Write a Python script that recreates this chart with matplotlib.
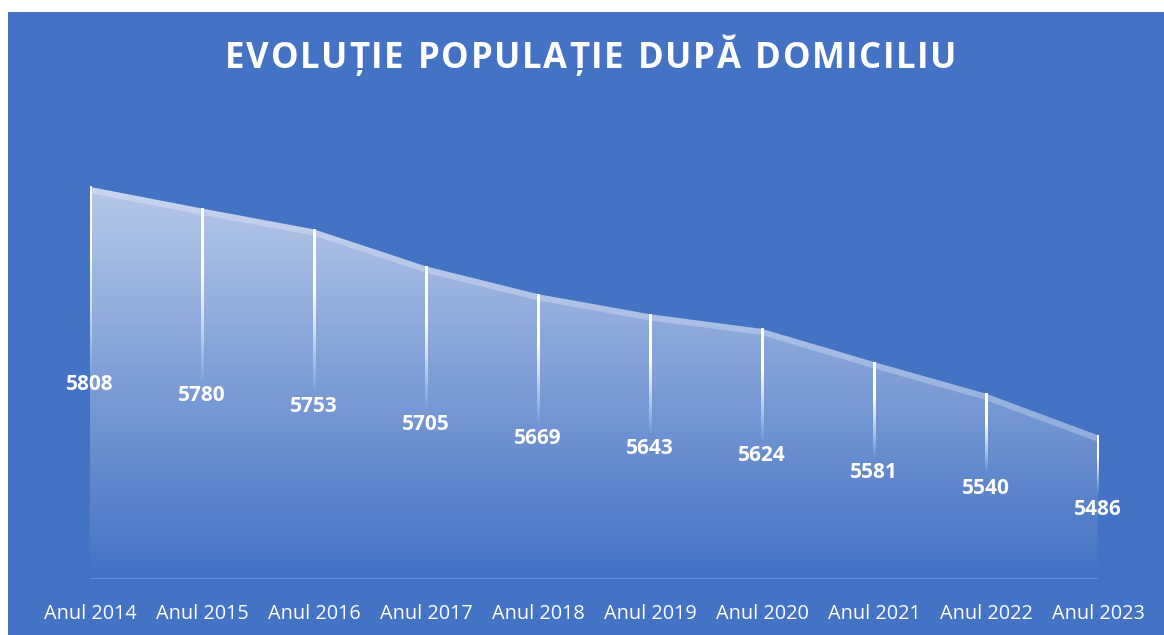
import numpy as np
import matplotlib
matplotlib.use("Agg")
import matplotlib.pyplot as plt
from matplotlib.patches import Rectangle
from matplotlib import transforms

# data
years = ["Anul 2014", "Anul 2015", "Anul 2016", "Anul 2017", "Anul 2018",
         "Anul 2019", "Anul 2020", "Anul 2021", "Anul 2022", "Anul 2023"]
population = [5808, 5780, 5753, 5705, 5669, 5643, 5624, 5581, 5540, 5486]
y_min, y_max = 5300, 5900
title = "EVOLUȚIE POPULAȚIE DUPĂ DOMICILIU"

BLUE = "#4472C4"
W, H = 1164, 635

fig = plt.figure(figsize=(W / 100, H / 100), dpi=100, facecolor="white")
fig.patches.append(Rectangle((8 / W, 0), 1 - 8 / W, 1 - 12 / H, transform=fig.transFigure,
                             facecolor=BLUE, edgecolor="none", zorder=-5))

ax = fig.add_axes([90 / W, (H - 579) / H, 1008 / W, (579 - 116) / H])
ax.set_zorder(2)
ax.set_facecolor("none")
x = np.arange(len(years))
n = len(years)
for s in ax.spines.values():
    s.set_visible(False)
ax.set_yticks([])

# gradient area fill
poly = ax.fill_between(x, population, y_min, facecolor="none", edgecolor="none")
top = max(population)
grad = np.zeros((256, 2, 4))
grad[..., :3] = 1.0
grad[..., 3] = np.linspace(0.62, 0.0, 256)[:, None]
im = ax.imshow(grad, extent=[0, n - 1, y_min, top], aspect="auto",
               origin="upper", zorder=1, interpolation="bilinear")
im.set_clip_path(poly.get_paths()[0], transform=ax.transData)

# light band along the top edge
band = transforms.offset_copy(ax.transData, fig=fig, x=0, y=-3, units="dots")
ax.plot(x, population, color="white", alpha=0.25, lw=4.5, transform=band,
        solid_capstyle="butt", zorder=2)

# baseline
ax.plot([0, n - 1], [y_min, y_min], color="#6f93d4", lw=1.2, zorder=2)

# fading drop lines
px_per_unit = (579 - 116) / (y_max - y_min)
half_w = 1.2 / (1008 / (n - 1))
fade = np.ones((100, 1, 4))
tt = np.linspace(0, 1, 100)
fade[:, 0, 3] = np.where(tt < 0.4, 1.0, np.clip(1 - (tt - 0.4) / 0.6, 0, 1) * 0.9 + 0.05)
for xi, v in zip(x, population):
    end = (v + y_min) / 2 + 14 / px_per_unit
    ax.imshow(fade, extent=[xi - half_w, xi + half_w, end, v], aspect="auto",
              origin="upper", zorder=3, interpolation="bilinear")

ax.set_xlim(0, n - 1)
ax.set_ylim(y_min, y_max)

# data labels
for xi, v in zip(x, population):
    ax.text(xi, (v + y_min) / 2 - 2 / px_per_unit, str(v), ha="center", va="center",
            color="white", fontsize=15, fontweight="bold", family="Open Sans", zorder=4)

ax.set_xticks(x)
ax.set_xticklabels(years, color="white", fontsize=14.3, family="Open Sans")
ax.tick_params(axis="x", length=0, pad=18)

# title with letter spacing
renderer = fig.canvas.get_renderer()
fs = 25
spacing = 1.6
widths = []
for ch in title:
    t = fig.text(0, 0, ch if ch != " " else "n", fontsize=fs, fontweight="bold",
                 family="Open Sans")
    w = t.get_window_extent(renderer).width
    if ch == " ":
        w *= 0.5
    widths.append(w)
    t.remove()
total = sum(widths) + spacing * (len(title) - 1)
cx = 591
xpos = cx - total / 2
for ch, w in zip(title, widths):
    if ch != " ":
        fig.text(xpos / W, 1 - 59 / H, ch, fontsize=fs, fontweight="bold",
                 family="Open Sans", color="white", va="center", ha="left")
    xpos += w + spacing

fig.savefig("out.png", dpi=100, facecolor="white")
